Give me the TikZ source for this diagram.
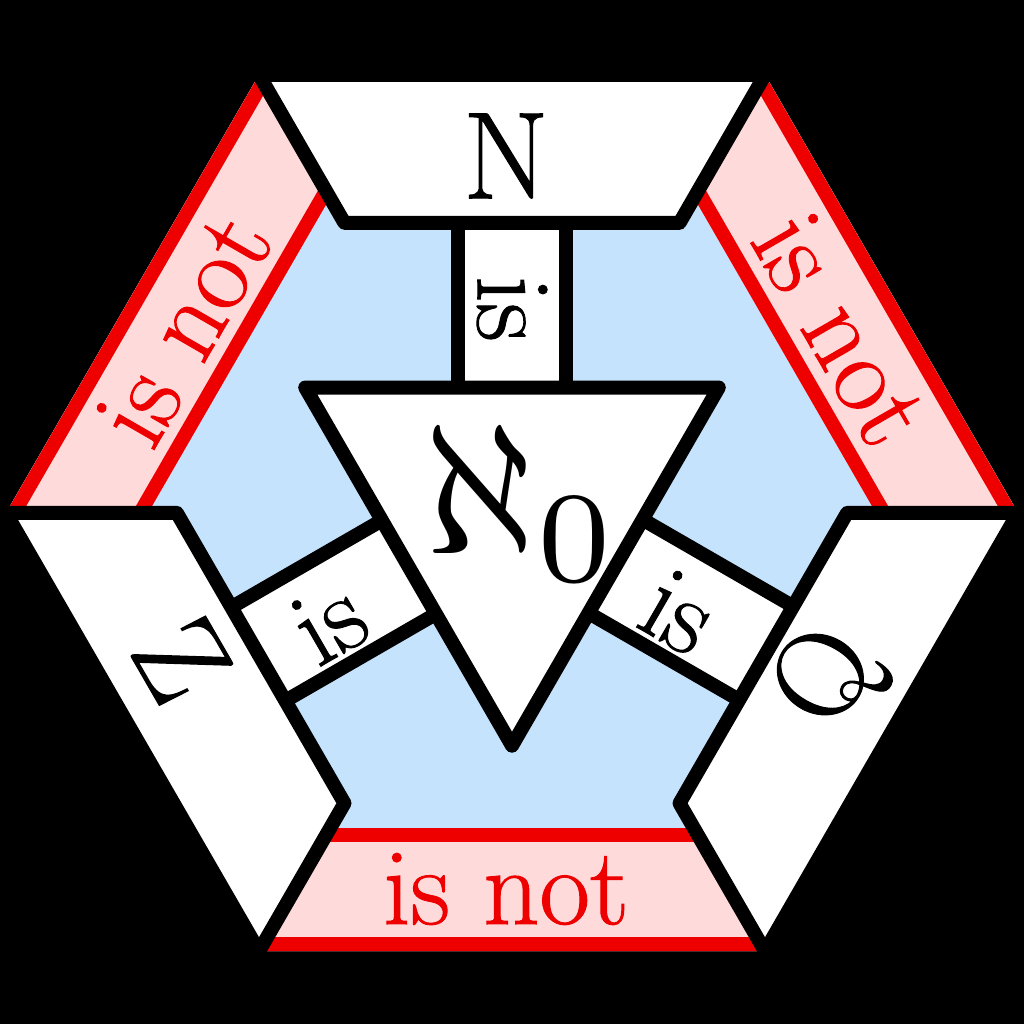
\documentclass[tikz,border=0pt]{standalone}
\usepackage{fontspec}
\setmainfont{Latin Modern Roman}[FakeBold=0.9]
\definecolor{hexblue}{RGB}{197,227,252}
\definecolor{bandpink}{RGB}{255,218,218}
\definecolor{bandred}{RGB}{238,0,0}
\begin{document}
\begin{tikzpicture}[x=1pt,y=-1pt,
  piece/.style={fill=white, draw=black, line width=14pt, line join=round},
  bigtxt/.style={font=\fontsize{124}{124}\selectfont, inner sep=0pt},
  istxt/.style={font=\fontsize{108}{108}\selectfont, inner sep=0pt},
  nottxt/.style={font=\fontsize{110}{110}\selectfont, text=bandred, inner sep=0pt}]
\fill[black] (0,0) rectangle (1024,1024);
\useasboundingbox (0,0) rectangle (1024,1024);
% hexagon
\fill[hexblue] (6,513) -- (259,74.8) -- (765,74.8) -- (1018,513) -- (765,951.2) -- (259,951.2) -- cycle;
% three "is not" bands
\foreach \r in {0,120,-120}{
  \begin{scope}[rotate around={\r:(512,513)}]
    \clip (259,951.2) -- (765,951.2) -- (694,828.2) -- (330,828.2) -- cycle;
    \fill[bandpink] (200,800) rectangle (830,960);
    \draw[bandred, line width=28pt] (200,951.2) -- (830,951.2);
    \draw[bandred, line width=28pt] (200,828.2) -- (830,828.2);
  \end{scope}
}
% "is" connector boxes
\draw[piece] (457.5,190) rectangle (565.5,410);
\draw[piece, rotate around={120:(512,507)}] (457.5,190) rectangle (565.5,410);
\draw[piece, rotate around={-120:(512,507)}] (457.5,190) rectangle (565.5,410);
% three trapezoids
\draw[piece] (259,74.8) -- (765,74.8) -- (679.6,222.8) -- (344.4,222.8) -- cycle;
\draw[piece, rotate around={120:(512,513)}] (259,74.8) -- (765,74.8) -- (679.6,222.8) -- (344.4,222.8) -- cycle;
\draw[piece, rotate around={-120:(512,513)}] (259,74.8) -- (765,74.8) -- (679.6,222.8) -- (344.4,222.8) -- cycle;
% central triangle
\draw[piece] (305.2,387.5) -- (718.8,387.5) -- (512,745.7) -- cycle;
% texts
\node[bigtxt] (N) at (506,156) {N};
\node[bigtxt, rotate=-60] (Z) at (182,660) {Z};
\node[bigtxt, rotate=60] (Q) at (830,680) {Q};
\node[istxt, rotate=-90] (isN) at (512,309) {is};
\node[istxt, rotate=30] (isZ) at (329,622) {is};
\node[istxt, rotate=-30] (isQ) at (679,612) {is};
\node[nottxt] (notB) at (506,889) {is not};
\node[nottxt, rotate=60] (notL) at (183.5,329) {is not};
\node[nottxt, rotate=-60] (notR) at (840.5,329) {is not};
\node[scale=18.5, inner sep=0pt] (aleph) at (522,503) {$\aleph_0$};
\end{tikzpicture}
\end{document}
